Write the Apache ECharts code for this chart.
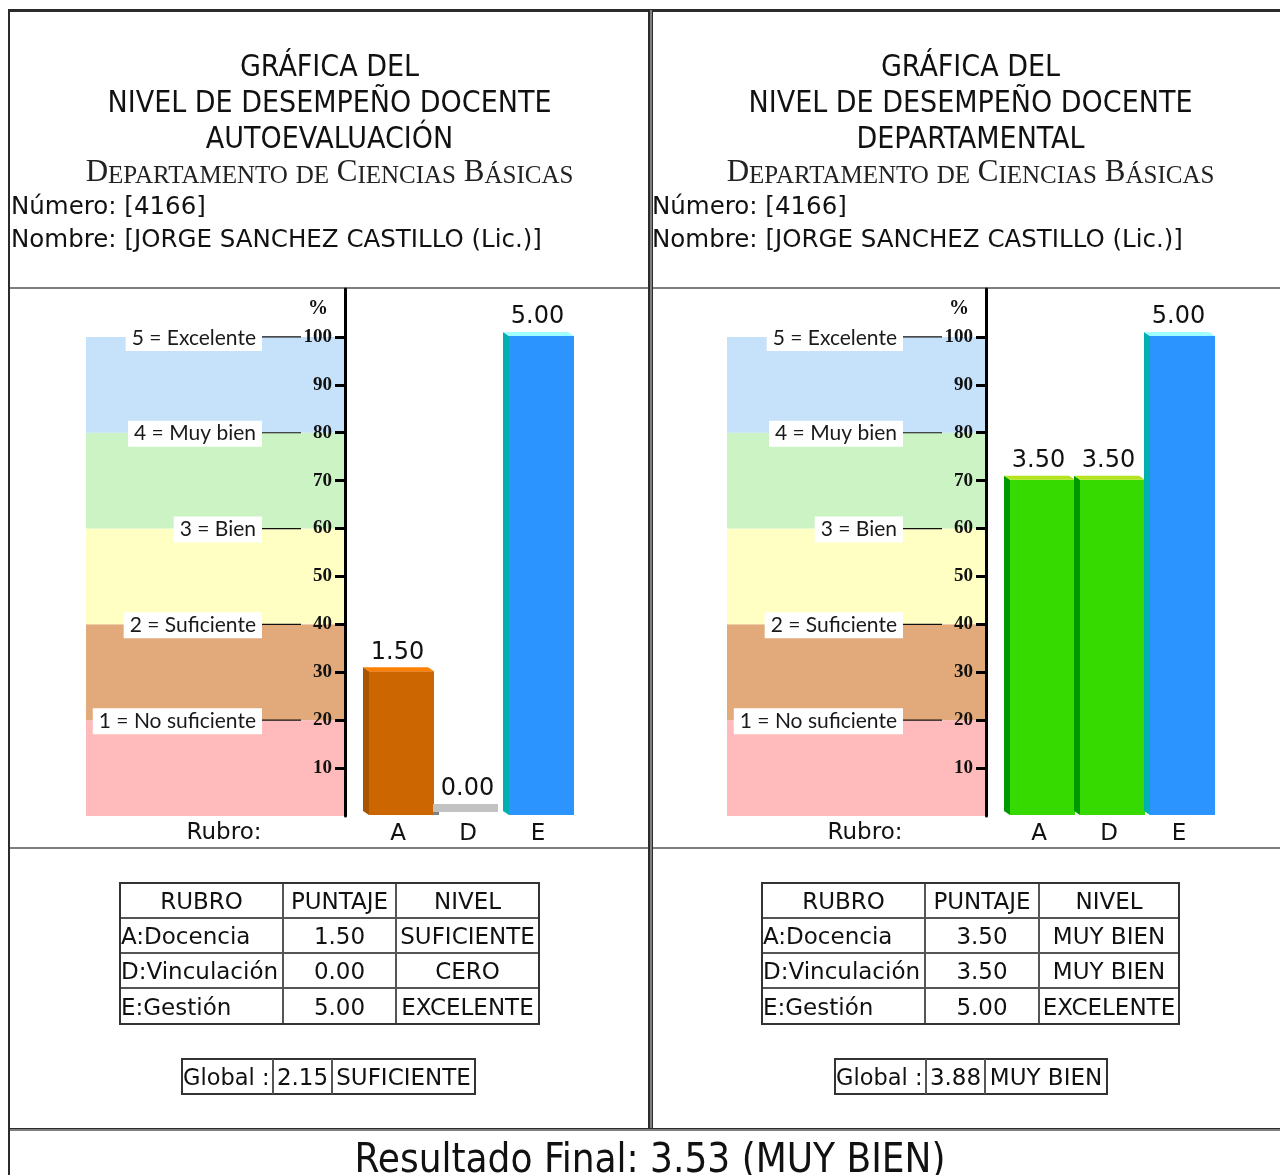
<!DOCTYPE html>
<html><head><meta charset="utf-8">
<script src="https://cdn.jsdelivr.net/npm/echarts@6/dist/echarts.min.js"></script>
<style>html,body{margin:0;padding:0;background:#fff}#c{width:1280px;height:1175px}</style>
</head><body><div id="c"></div>
<script>
// ---------------- data ----------------
const titleLines = ['GRÁFICA DEL', 'NIVEL DE DESEMPEÑO DOCENTE'];
const panelTitles = ['AUTOEVALUACIÓN', 'DEPARTAMENTAL'];
const departmentName = 'Departamento de Ciencias Básicas';
const teacherNumber = '4166';
const teacherName = 'JORGE SANCHEZ CASTILLO (Lic.)';
const categories = ['A', 'D', 'E'];
const rubroNames = ['A:Docencia', 'D:Vinculación', 'E:Gestión'];
const tableHeaders = ['RUBRO', 'PUNTAJE', 'NIVEL'];
const scoresAuto = [1.50, 0.00, 5.00];
const levelsAuto = ['SUFICIENTE', 'CERO', 'EXCELENTE'];
const scoresDept = [3.50, 3.50, 5.00];
const levelsDept = ['MUY BIEN', 'MUY BIEN', 'EXCELENTE'];
const globalAuto = 2.15;
const globalAutoLevel = 'SUFICIENTE';
const globalDept = 3.88;
const globalDeptLevel = 'MUY BIEN';
const finalScore = 3.53;
const finalLevel = 'MUY BIEN';
const bandLow = [0, 20, 40, 60, 80];
const bandHigh = [20, 40, 60, 80, 100];
const bandLabels = ['1 = No suficiente', '2 = Suficiente', '3 = Bien', '4 = Muy bien', '5 = Excelente'];
const percentTicks = [10, 20, 30, 40, 50, 60, 70, 80, 90, 100];

// ---------------- styles ----------------
const SANS = '"DejaVu Sans", "Open Sans", sans-serif';
const COND = '"DejaVu Sans Condensed", "Liberation Sans Narrow", "DejaVu Sans", sans-serif';
const SERIF = '"Liberation Serif", "DejaVu Serif", serif';
const LABEL = 'Lato, "Open Sans", sans-serif';
const INK = '#111';
const DARK = '#2b2b2b', GRAY = '#7f7f7f';
const bandColors = ['#FFBBBB', '#E2AA7A', '#FFFFC4', '#CBF3C3', '#C6E1FA'];
const barStyles = {
  'CERO':       { front: '#A0A0A0', top: '#C2C2C2', side: '#808080' },
  'SUFICIENTE': { front: '#CC6600', top: '#FF8000', side: '#A85400' },
  'BIEN':       { front: '#E8D800', top: '#FFFF60', side: '#B0A000' },
  'MUY BIEN':   { front: '#36DA00', top: '#B4E41E', side: '#009A00' },
  'EXCELENTE':  { front: '#2B94FF', top: '#A2FFFF', side: '#00B0B0' }
};

const OFF = [0, 641];
const panels = [
  { title: panelTitles[0], scores: scoresAuto, levels: levelsAuto, g: globalAuto, gl: globalAutoLevel,
    tableCols: [120, 283, 396, 539], globalCols: [182, 273, 332, 475] },
  { title: panelTitles[1], scores: scoresDept, levels: levelsDept, g: globalDept, gl: globalDeptLevel,
    tableCols: [762, 925, 1039, 1179], globalCols: [835, 926, 985, 1107] }
];

const grids = [], xAxes = [], yAxes = [], series = [], graphics = [];

function rect(x, y, w, h, fill) {
  graphics.push({ type: 'rect', silent: true, shape: { x, y, width: w, height: h }, style: { fill } });
}
function line(x1, y1, x2, y2, stroke, lw) {
  graphics.push({ type: 'line', silent: true, shape: { x1, y1, x2, y2 }, style: { stroke, lineWidth: lw } });
}
function text(str, x, y, font, align, extra) {
  graphics.push({ type: 'text', silent: true, x, y,
    style: Object.assign({ text: str, font, fill: INK, align, textAlign: align,
      verticalAlign: 'middle', textVerticalAlign: 'middle' }, extra || {}) });
}
function smallCaps(s) {
  return s.split(' ').map(w => {
    const f = w[0], r = w.slice(1).toUpperCase();
    return (f === f.toUpperCase() ? '{b|' + f + '}' : '{s|' + f.toUpperCase() + '}') + '{s|' + r + '}';
  }).join(' ');
}

// ---------- page frame ----------
rect(8, 9, 1272, 3, DARK);
rect(8, 9, 2, 1166, DARK);
rect(648, 10, 2, 1120, DARK);
rect(650, 10, 2, 1120, GRAY);
rect(652, 10, 1, 1120, DARK);
[287, 847].forEach(y => { rect(10, y, 638, 2, GRAY); rect(653, y, 627, 2, GRAY); });
rect(10, 1128, 1270, 1, DARK);
rect(10, 1129, 1270, 2, GRAY);

panels.forEach((p, k) => {
  const o = OFF[k];
  const cx = 329.5 + o;
  // ---- header texts ----
  text(titleLines[0], cx, 68, '30px ' + COND, 'center');
  text(titleLines[1], cx, 104, '30px ' + COND, 'center');
  text(p.title, cx, 140, '30px ' + COND, 'center');
  text(smallCaps(departmentName), cx, 173, '31px ' + SERIF, 'center', {
    fill: '#222',
    rich: {
      b: { fontSize: 31, fontFamily: SERIF, fill: '#222', verticalAlign: 'bottom', lineHeight: 31 },
      s: { fontSize: 25, fontFamily: SERIF, fill: '#222', verticalAlign: 'bottom', lineHeight: 31 }
    }
  });
  text('Número: [' + teacherNumber + ']', 11 + o, 208, '24.5px ' + SANS, 'left');
  text('Nombre: [' + teacherName + ']', 11 + o, 241, '24.5px ' + SANS, 'left');
  text('Rubro:', 224 + o, 833, '23px ' + SANS, 'center');

  // ---- level-band scale grid ----
  const gBand = grids.length;
  grids.push({ left: 86 + o, top: 289, width: 259, height: 527, outerBoundsMode: 'none', containLabel: false });
  xAxes.push({ gridIndex: gBand, type: 'value', min: 0, max: 1, show: false });
  yAxes.push({
    gridIndex: gBand, type: 'value', min: 0, max: 110, position: 'right', z: 10,
    name: '%', nameLocation: 'end', nameGap: -30, nameMoveOverlap: false,
    nameTextStyle: { fontFamily: SERIF, fontWeight: 'bold', fontSize: 20, color: INK, align: 'right', padding: [0, 17, 0, 0] },
    axisLine: { show: true, onZero: false, lineStyle: { color: '#000', width: 3 } },
    axisTick: { show: true, inside: true, length: 10, customValues: percentTicks, lineStyle: { color: '#000', width: 3 } },
    axisLabel: { inside: true, margin: 13, customValues: percentTicks, hideOverlap: false,
      fontFamily: SERIF, fontWeight: 'bold', fontSize: 19, color: INK },
    splitLine: { show: false }
  });
  series.push({
    type: 'custom', coordinateSystem: 'cartesian2d', xAxisIndex: gBand, yAxisIndex: gBand, z: -1,
    silent: true, animation: false, encode: { x: 0, y: [1, 2] },
    data: bandLow.map((lo, i) => [0.5, lo, bandHigh[i], i]),
    renderItem(params, api) {
      const cs = params.coordSys;
      const y1 = api.coord([0.5, api.value(2)])[1];
      const y0 = api.coord([0.5, api.value(1)])[1];
      return { type: 'rect', shape: { x: cs.x, y: y1, width: cs.width, height: y0 - y1 },
        style: { fill: bandColors[api.value(3)] } };
    }
  });
  series.push({
    type: 'custom', coordinateSystem: 'cartesian2d', xAxisIndex: gBand, yAxisIndex: gBand, z: 3,
    silent: true, animation: false, encode: { x: 0, y: 1 },
    data: bandHigh.map((hi, i) => [0.5, hi, i]),
    renderItem(params, api) {
      const cs = params.coordSys;
      const y = api.coord([0.5, api.value(1)])[1];
      return { type: 'group', children: [
        { type: 'line', shape: { x1: cs.x + 172, y1: y, x2: cs.x + 215, y2: y }, style: { stroke: '#111', lineWidth: 1.2 } },
        { type: 'text', style: { text: bandLabels[api.value(2)], x: cs.x + 176, y: y + 1,
            align: 'right', textAlign: 'right', verticalAlign: 'middle', textVerticalAlign: 'middle',
            font: '21px ' + LABEL, fill: '#1a1a1a', backgroundColor: '#fff', padding: [3, 6, 2, 6] } }
      ] };
    }
  });

  // ---- bar grid ----
  const gBar = grids.length;
  grids.push({ left: 363 + o, top: 336, width: 210, height: 479, outerBoundsMode: 'none', containLabel: false });
  xAxes.push({
    gridIndex: gBar, type: 'category', data: categories,
    axisLine: { show: false }, axisTick: { show: false }, splitLine: { show: false },
    axisLabel: { margin: 8, fontFamily: SANS, fontSize: 23, color: INK }
  });
  yAxes.push({ gridIndex: gBar, type: 'value', min: 0, max: 5, show: false });
  series.push({
    type: 'custom', coordinateSystem: 'cartesian2d', xAxisIndex: gBar, yAxisIndex: gBar, z: 4,
    silent: true, animation: false, encode: { x: 0, y: 1 },
    data: p.scores.map((v, i) => [i, v]),
    renderItem(params, api) {
      const i = api.value(0), v = api.value(1);
      const st = barStyles[p.levels[i]];
      const top = api.coord([i, v]);
      const y0 = api.coord([i, 0])[1];
      const bw = api.size([1, 0])[0];
      const c = top[0], yt = top[1];
      const L = c - bw / 2 + 6, R = c + bw / 2 + 1, dx = 6, dy = 4;
      const kids = [];
      let capTop;
      if (v > 0) {
        kids.push({ type: 'rect', shape: { x: L, y: yt, width: R - L, height: y0 - yt }, style: { fill: st.front } });
        kids.push({ type: 'polygon', shape: { points: [[L - dx, yt - dy], [L, yt], [L, y0], [L - dx, y0 - dy]] }, style: { fill: st.side } });
        kids.push({ type: 'polygon', shape: { points: [[L - dx, yt - dy], [R - dx, yt - dy], [R, yt], [L, yt]] }, style: { fill: st.top } });
        capTop = yt - dy;
      } else {
        kids.push({ type: 'rect', shape: { x: L - dx, y: y0 - 11, width: R - L, height: 8 }, style: { fill: st.top } });
        kids.push({ type: 'rect', shape: { x: L - dx, y: y0 - 3, width: dx, height: 3 }, style: { fill: st.side } });
        capTop = y0 - 11;
      }
      kids.push({ type: 'text', style: { text: v.toFixed(2), x: c - 0.5, y: capTop - 15,
        align: 'center', textAlign: 'center', verticalAlign: 'middle', textVerticalAlign: 'middle',
        font: '24px ' + SANS, fill: INK } });
      return { type: 'group', children: kids };
    }
  });

  // ---- score table ----
  const tc = p.tableCols, rows = [883, 918, 953, 988, 1024];
  const cells = [tableHeaders].concat(rubroNames.map((n, i) => [n, p.scores[i].toFixed(2), p.levels[i]]));
  for (let c = 1; c < tc.length - 1; c++) line(tc[c], rows[0], tc[c], rows[rows.length - 1], '#555', 2);
  for (let r = 1; r < rows.length - 1; r++) line(tc[0], rows[r], tc[tc.length - 1], rows[r], '#555', 2);
  graphics.push({ type: 'rect', silent: true, shape: { x: tc[0], y: rows[0], width: tc[3] - tc[0], height: rows[4] - rows[0] },
    style: { fill: 'none', stroke: '#333', lineWidth: 2 } });
  cells.forEach((row, r) => {
    const yc = (rows[r] + rows[r + 1]) / 2 + 3;
    row.forEach((t, c) => {
      if (c === 0 && r > 0) text(t, tc[0] + 1, yc, '23px ' + SANS, 'left');
      else text(t, (tc[c] + tc[c + 1]) / 2, yc, '23px ' + SANS, 'center');
    });
  });

  // ---- global box ----
  const gc = p.globalCols, gy0 = 1059, gy1 = 1094;
  graphics.push({ type: 'rect', silent: true, shape: { x: gc[0], y: gy0, width: gc[3] - gc[0], height: gy1 - gy0 },
    style: { fill: 'none', stroke: '#333', lineWidth: 2 } });
  line(gc[1], gy0, gc[1], gy1, '#555', 2);
  line(gc[2], gy0, gc[2], gy1, '#555', 2);
  const gyc = (gy0 + gy1) / 2 + 3;
  text('Global :', gc[0] + 1, gyc, '22.5px ' + SANS, 'left');
  text(p.g.toFixed(2), (gc[1] + gc[2]) / 2, gyc, '23px ' + SANS, 'center');
  text(p.gl, (gc[2] + gc[3]) / 2, gyc, '23px ' + SANS, 'center');
});

text('Resultado Final: ' + finalScore.toFixed(2) + ' (' + finalLevel + ')', 650, 1162, '40px ' + COND, 'center');

const chart = echarts.init(document.getElementById('c'), null, { renderer: 'canvas', width: 1280, height: 1175 });
chart.setOption({
  animation: false,
  backgroundColor: '#fff',
  grid: grids,
  xAxis: xAxes,
  yAxis: yAxes,
  series: series,
  graphic: { elements: graphics }
});
</script>
</body></html>
